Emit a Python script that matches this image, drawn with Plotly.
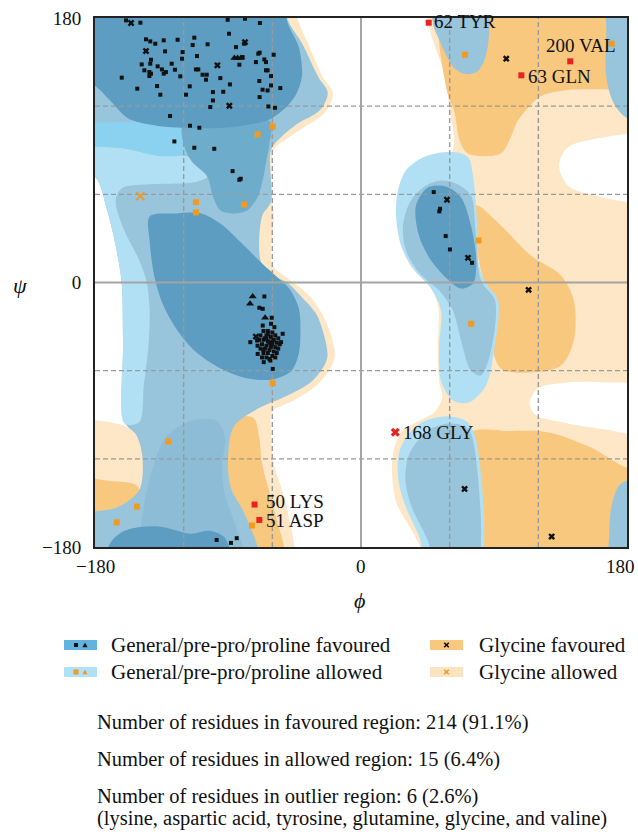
import plotly.graph_objects as go

FIG_W, FIG_H = 638, 835
PLOT_L, PLOT_R, PLOT_T, PLOT_B = 95, 627, 18, 547
SERIF = "Liberation Serif, Times New Roman, DejaVu Serif, serif"

# ---------------- axis ticks ----------------
TICK_VALS = [-180, 0, 180]
TICK_TEXT = ["\u2212180", "0", "180"]
GRID_DASHED = [-120, -60, 60, 120]

# ---------------- region outlines (phi, psi) ----------------
GA_LEFT_R = [(-130, 200), (-44, 200), (-43, 180), (-36, 163), (-26, 140), (-19, 129), (-24, 116), (-38, 106),
             (-50, 98), (-59, 90), (-60, 55), (-59, 45), (-60, 12), (-50, 3), (-36, -8), (-26, -22), (-19, -40),
             (-18, -52), (-28, -68), (-45, -80), (-60, -88), (-61, -100), (-59, -123), (-52, -146), (-45, -180),
             (-44, -200), (-130, -200)]
GA_LEFT_EDGE = [(-200, -97), (-162, -97), (-152, -104), (-148, -122), (-150, -140), (-165, -155), (-200, -164)]
GA_RIGHT = [(44, 200), (45, 180), (47, 170), (51, 158), (55, 147), (58, 135), (60, 117), (63, 96), (60, 86),
            (45, 80), (32, 70), (27, 55), (27, 30), (33, 12), (45, 0), (52, -15), (52, -45), (53, -68), (55, -78),
            (50, -88), (36, -96), (27, -102), (22, -115), (21, -130), (24, -150), (35, -170), (42, -185),
            (43, -200), (200, -200), (200, 200)]
WHITE_HOLE_A = [(134, 80), (140, 92), (155, 97), (200, 99), (200, 56), (155, 60), (140, 66)]
WHITE_HOLE_B = [(114, -82), (120, -72), (140, -68), (165, -68), (200, -72), (200, -103), (165, -100),
                (135, -95), (118, -90)]
GF_LEFT_BAND = [(-100, -97), (-73, -92), (-69, -105), (-67, -123), (-61, -146), (-56, -165), (-52, -180),
                (-51, -200), (-100, -200)]
GF_LEFT_EDGE = [(-200, -134), (-170, -135), (-152, -138), (-148, -149), (-162, -159), (-200, -164)]
GF_TOP = [(58, 200), (58, 131), (63, 117), (67, 96), (72, 88), (83, 86), (95, 88), (101, 98), (106, 110),
          (114, 120), (122, 127), (140, 131), (180, 131), (200, 131), (200, 200)]
GF_MID = [(77.8, 52.4), (94.7, 38.8), (115, 18.4), (135.3, 4.8), (144, -12.3), (144, -39.5), (135.3, -56.5),
          (115, -61.3), (94.7, -58.5), (88, -39.5), (88, -12.3), (81.2, 8.2), (77.1, 35.4)]
GF_BOTTOM = [(73, -103), (100, -101), (127, -102), (155, -112), (180, -126), (200, -128), (200, -200), (73, -200)]

GEN_LEFT = [(-200, 200), (-50, 200), (-50, 180), (-40, 163), (-29, 140), (-22.5, 129), (-28, 117), (-43, 108),
            (-55, 98), (-61, 90), (-61, 55), (-67, 45), (-68, 15), (-62, 6), (-50, 0), (-40, -10), (-30, -22),
            (-24, -40), (-23, -52), (-33, -67), (-52, -78), (-70, -86), (-86, -98), (-90, -120), (-88, -140),
            (-80, -155), (-70, -180), (-68, -200), (-200, -200), (-200, -161), (-165, -153), (-150, -141),
            (-148, -118), (-152, -104), (-160, -95), (-161, -40), (-162, 0), (-166, 25), (-172, 50), (-180, 72),
            (-200, 78)]
GEN_LEFT_LIGHT = [(-200, 96), (-160, 93), (-135, 87), (-118, 86), (-106, 80), (-104, 72), (-114, 68), (-140, 67),
                  (-162, 64), (-166, 55), (-160, 35), (-150, 15), (-145, 0), (-143, -20), (-144, -45), (-147, -70),
                  (-150, -95), (-160, -96), (-161, -40), (-162, 0), (-166, 25), (-172, 50), (-180, 72), (-200, 78)]
PREPRO_CYAN = [(-200, 105), (-118, 105), (-113, 97), (-118, 88), (-135, 86), (-160, 91), (-200, 96)]
PREPRO_LOW = [(-150, -200), (-148, -160), (-142, -130), (-132, -105), (-115, -94), (-98, -94), (-92, -105),
              (-94, -125), (-92, -145), (-85, -165), (-78, -200)]
TONGUE = [(-120, 108), (-62, 110), (-62, 94), (-64, 83), (-66, 72), (-70, 58), (-77, 49), (-86, 47), (-95, 49),
          (-100, 58), (-104, 72), (-115, 83), (-120, 94)]
FAV_BETA = [(-200, 200), (-52, 200), (-50, 178), (-42, 160), (-40, 140), (-44, 128), (-52, 118), (-62, 111),
            (-85, 106), (-115, 105), (-140, 107), (-158, 112), (-170, 124), (-182, 135), (-200, 137)]
FAV_ALPHA = [(-143, 45), (-125, 47), (-108, 47), (-95, 40), (-80, 26), (-66, 12), (-56, 3), (-48, -5), (-42, -18),
             (-41, -33), (-42, -48), (-47, -60), (-60, -66), (-78, -65), (-96, -58), (-112, -47), (-124, -33),
             (-134, -15), (-140, 5), (-143, 28)]
FAV_BOTTOM = [(-174, -200), (-170, -178), (-160, -169), (-137, -166), (-115, -171), (-103, -169), (-92, -174),
              (-88, -200)]
BLOB_OUTER = [(67.7, 88), (54, 88.5), (40.6, 84.4), (30.4, 76.2), (25.0, 62.6), (23.7, 45.6), (27.1, 25.2),
              (35.2, 9.5), (47.4, -4.1), (54.1, -19.1), (52.8, -44.2), (54.1, -66.7), (62.2, -80.3),
              (73.1, -81.7), (84.6, -70.1), (90.0, -46.3), (92.7, -12.3), (84.6, -0.7), (79.8, 11.6),
              (78.5, 42.2), (75.8, 72.8), (73.1, 84.4)]
BLOB_MID = [(44, 66), (33.8, 55.8), (28.4, 38.8), (30.4, 21.8), (39.2, 6.8), (54.1, -6.8), (62.2, -19.1),
            (67.7, -39.5), (74.4, -59.9), (81.2, -63.3), (88, -46.3), (90.7, -12.3), (81.2, 1.4), (77.5, 35.4),
            (74.4, 59.2), (64.3, 67.4), (54.1, 69.4)]
BLOB_CORE = [(45.3, 64.7), (37.2, 52.4), (39.2, 32.0), (47.4, 15.0), (59.5, 1.4), (67.7, -4.1), (75.8, -0.7),
             (78.0, 15.0), (74.4, 38.8), (67.7, 57.9), (57.5, 65.4)]
TOP_BLUE_R = [(49, 200), (49, 175), (53, 165), (57, 156), (63, 146), (70, 142), (78, 143), (83, 150), (86, 162),
              (87, 180), (87, 200)]
TOP_EDGE_R = [(168, 200), (166, 170), (166, 140), (171, 122), (180, 112), (200, 110), (200, 200)]
LOW_BLOB_OUTER = [(44, -200), (40, -175), (30, -152), (25, -132), (27, -112), (40, -96), (58, -91), (72, -95),
                  (78, -108), (78, -200)]
LOW_BLOB = [(53, -200), (45, -175), (34, -152), (30, -133), (33, -116), (45, -101), (59, -96), (72, -99),
            (76.7, -112), (76.7, -200)]
BOTTOM_EDGE_R = [(200, -200), (170, -200), (168, -170), (170, -150), (176, -137), (200, -133)]

# ---------------- residues ----------------
GEN_FAV_SQ = [
    (-159.0, 178.4), (-149.3, 176.8), (-90.2, 178.8), (-78.5, 179.5), (-68.4, 176.6),
    (-145.5, 165.5), (-142.6, 164.1), (-139.2, 162.5), (-133.5, 164.8), (-124.1, 165.2), (-112.8, 166.6),
    (-113.9, 161.6), (-103.8, 162.1), (-89.3, 169.3), (-84.6, 160.2), (-79.0, 162.5), (-69.5, 155.7),
    (-68.6, 156.4), (-132.6, 157.3), (-120.7, 156.8), (-121.1, 152.3), (-111.0, 154.1), (-80.1, 153.4),
    (-71.1, 150.0), (-65.4, 151.8), (-64.3, 150.0), (-59.1, 155.0), (-142.1, 151.6), (-142.6, 148.9),
    (-148.4, 148.4), (-137.6, 147.1), (-134.7, 145.0), (-133.5, 142.1), (-132.0, 143.2), (-128.1, 148.9),
    (-125.9, 144.8), (-146.6, 144.4), (-143.2, 143.2), (-142.1, 142.1), (-143.2, 140.5), (-122.3, 140.3),
    (-111.7, 145.0), (-110.1, 145.0), (-107.2, 141.4), (-104.4, 141.4), (-104.9, 138.0), (-95.2, 139.1),
    (-88.7, 134.8), (-82.3, 148.2), (-64.3, 144.4), (-63.2, 144.4), (-60.9, 140.5), (-161.9, 139.4),
    (-151.4, 131.9), (-138.0, 133.7), (-135.8, 127.8), (-118.4, 127.8), (-115.9, 133.5), (-100.2, 129.6),
    (-100.2, 123.9), (-93.2, 129.8), (-102.0, 119.4), (-68.8, 137.1), (-66.6, 131.2), (-63.2, 130.7),
    (-60.9, 134.1), (-54.6, 132.3), (-68.6, 126.2), (-62.7, 119.8), (-58.2, 118.9), (-129.2, 113.3),
    (-115.7, 106.7), (-109.4, 105.3), (-126.3, 96.0), (-112.8, 91.7), (-99.3, 91.0), (-86.9, 75.8),
    (-82.3, 69.9), (-81.4, 70.6),
    (-65.4, -9.5), (-68.8, -17.2), (-66.5, -17.9), (-60.4, -24.0), (-66.5, -29.3), (-60.9, -28.1),
    (-58.6, -30.4), (-53.0, -34.9), (-74.9, -40.6), (-70.3, -39.5), (-54.1, -40.6), (-69.9, -48.6),
    (-65.8, -54.2), (-61.3, -53.1), (-59.7, -58.8),
    (-66, -33), (-63, -33), (-60, -34), (-68, -36), (-64, -36), (-61, -37), (-58, -36), (-56, -38),
    (-69, -39), (-66, -39), (-63, -40), (-60, -40), (-57, -41), (-55, -42), (-67, -42), (-64, -43),
    (-61, -43), (-58, -44), (-62, -46), (-65, -45), (-68, -45), (-59, -47), (-56, -45), (-63, -48),
    (-66, -48), (-60, -50), (-64, -51), (-67, -51), (-61, -44), (-62, -41), (-65, -38), (-59, -39),
    (-57, -48), (-70, -43), (-63, -35), (-60, -42), (-66, -46), (-62, -52), (-58, -51), (-64, -38),
    (49.2, 61.5), (53.5, 50.2), (53.0, 48.4), (57.3, 31.6), (60.2, 22.5), (75.1, 13.4),
    (-97.7, -175.2), (-88.0, -177.2), (-84.1, -174.0),
]
PRO_FAV_TRI = [(-85.7, 152.8), (-83.5, 152.8), (-81.2, 152.8), (-73.3, -9.5), (-75.1, -14.5), (-64.9, -24.0)]
GLY_FAV_X = [(-155.6, 176.6), (-145.5, 157.5), (-97.2, 147.8), (-78.5, 163.6), (-89.1, 120.3), (-71.1, -36.8),
             (98.3, 152.3), (58.2, 56.3), (72.4, 16.8), (113.4, -5.0), (70.1, -140.5), (129.0, -172.9)]
GEN_ALLOWED_SQ = [(-59.8, 106.2), (-70.0, 100.8), (-111.7, 54.7), (-111.7, 47.7), (-79.0, 53.1), (-59.8, -68.5),
                  (-130.4, -108.2), (-151.6, -152.5), (-165.3, -163.2), (-73.8, -165.4), (70.4, 155.0),
                  (169.6, 162.5), (79.6, 28.6), (74.6, -28.1)]
GLY_ALLOWED_X = [(-149.3, 58.8)]
OUTLIER_LABELS = ["62 TYR", "63 GLN", "200 VAL", "50 LYS", "51 ASP", "168 GLY"]
OUTLIER_PHI = [45.8, 108.5, 141.6, -72.0, -68.8, 23.2]
OUTLIER_PSI = [176.8, 141.0, 150.5, -151.1, -161.6, -101.9]
OUTLIER_IS_GLY = [False, False, False, False, False, True]

LEGEND_LEFT = ["General/pre-pro/proline favoured", "General/pre-pro/proline allowed"]
LEGEND_RIGHT = ["Glycine favoured", "Glycine allowed"]
STATS = ["Number of residues in favoured region: 214 (91.1%)",
         "Number of residues in allowed region: 15 (6.4%)",
         "Number of residues in outlier region: 6 (2.6%)",
         "(lysine, aspartic acid, tyrosine, glutamine, glycine, and valine)"]

# ---------------- colours ----------------
C_GA = "#fde7c7"
C_GF = "#f8c87f"
C_LB = "#b1e0f4"
C_CY = "#8ad2ef"
C_GB = "#98c5db"
C_MB2 = "#8dbdd6"
C_MB = "#6eaccc"
C_DB = "#5c9dc1"
C_ORANGE = "#f39a1e"
C_RED = "#e8231f"

fig = go.Figure()


def region(pts, color):
    xs = [p[0] for p in pts] + [pts[0][0]]
    ys = [p[1] for p in pts] + [pts[0][1]]
    fig.add_trace(go.Scatter(x=xs, y=ys, mode="lines", fill="toself", fillcolor=color,
                             line=dict(width=0, shape="spline", smoothing=0.9, color=color),
                             hoverinfo="skip", showlegend=False))


for pts, col in [
    (GA_LEFT_R, C_GA), (GA_LEFT_EDGE, C_GA), (GA_RIGHT, C_GA),
    (WHITE_HOLE_A, "#ffffff"), (WHITE_HOLE_B, "#ffffff"),
    (GF_LEFT_BAND, C_GF), (GF_LEFT_EDGE, C_GF), (GF_TOP, C_GF), (GF_MID, C_GF), (GF_BOTTOM, C_GF),
    (GEN_LEFT, C_GB), (GEN_LEFT_LIGHT, C_LB), (PREPRO_CYAN, C_CY), (PREPRO_LOW, C_MB2),
    (TONGUE, C_MB), (FAV_BETA, C_DB), (FAV_ALPHA, C_DB), (FAV_BOTTOM, C_DB),
    (BLOB_OUTER, C_LB), (BLOB_MID, C_GB), (BLOB_CORE, C_DB),
    (TOP_BLUE_R, C_GB), (TOP_EDGE_R, C_GB), (LOW_BLOB_OUTER, C_LB), (LOW_BLOB, C_GB), (BOTTOM_EDGE_R, C_GB),
]:
    region(pts, col)

# grid lines (drawn over the regions)
for v in GRID_DASHED:
    fig.add_trace(go.Scatter(x=[v, v], y=[-180, 180], mode="lines", hoverinfo="skip", showlegend=False,
                             line=dict(color="#9a9a9a", width=1.4, dash="5px,3px")))
    fig.add_trace(go.Scatter(x=[-180, 180], y=[v, v], mode="lines", hoverinfo="skip", showlegend=False,
                             line=dict(color="#9a9a9a", width=1.4, dash="5px,3px")))
fig.add_trace(go.Scatter(x=[0, 0], y=[-180, 180], mode="lines", hoverinfo="skip", showlegend=False,
                         line=dict(color="#a4a4a4", width=2)))
fig.add_trace(go.Scatter(x=[-180, 180], y=[0, 0], mode="lines", hoverinfo="skip", showlegend=False,
                         line=dict(color="#a4a4a4", width=2)))


def pts_trace(pts, symbol, size, color, lw=0):
    fig.add_trace(go.Scatter(x=[p[0] for p in pts], y=[p[1] for p in pts], mode="markers",
                             marker=dict(symbol=symbol, size=size, color=color,
                                         line=dict(width=lw, color=color)),
                             cliponaxis=False, hoverinfo="skip", showlegend=False))


pts_trace(GEN_FAV_SQ, "square", 4, "#111111")
pts_trace(PRO_FAV_TRI, "triangle-up", 7, "#111111")
pts_trace(GLY_FAV_X, "x", 6, "#111111")
pts_trace(GEN_ALLOWED_SQ, "square", 6, C_ORANGE)
pts_trace(GLY_ALLOWED_X, "x-thin", 8, C_ORANGE, lw=2)

out_sq = [(p, s) for p, s, g in zip(OUTLIER_PHI, OUTLIER_PSI, OUTLIER_IS_GLY) if not g]
out_x = [(p, s) for p, s, g in zip(OUTLIER_PHI, OUTLIER_PSI, OUTLIER_IS_GLY) if g]
pts_trace(out_sq, "square", 6, C_RED)
pts_trace(out_x, "x", 8, C_RED)

annotations = []
# label placement (style only)
LABEL_STYLE = {
    "62 TYR": dict(xanchor="left", yanchor="middle", xshift=3, yshift=1),
    "63 GLN": dict(xanchor="left", yanchor="middle", xshift=5, yshift=-1),
    "200 VAL": dict(xanchor="center", yanchor="bottom", xshift=11, yshift=3),
    "50 LYS": dict(xanchor="left", yanchor="middle", xshift=9, yshift=3),
    "51 ASP": dict(xanchor="left", yanchor="middle", xshift=5, yshift=-1),
    "168 GLY": dict(xanchor="left", yanchor="middle", xshift=6, yshift=0),
}
for lab, p, s in zip(OUTLIER_LABELS, OUTLIER_PHI, OUTLIER_PSI):
    st = LABEL_STYLE[lab]
    annotations.append(dict(x=p, y=s, xref="x", yref="y", text=lab, showarrow=False,
                            font=dict(family=SERIF, size=19, color="#111"), **st))


def px_x(v):
    return v / FIG_W


def px_y(v):
    return 1 - v / FIG_H


# x tick labels (drawn as text under the axis so the right-hand one stays inside the page)
X_TICK_SHIFT = [0, 0, -7]
for val, txt, sh in zip(TICK_VALS, TICK_TEXT, X_TICK_SHIFT):
    annotations.append(dict(x=val, y=px_y(566), xref="x", yref="paper", text=txt, showarrow=False,
                            xanchor="center", yanchor="middle", xshift=sh,
                            font=dict(family=SERIF, size=19, color="#111")))

# axis titles
annotations.append(dict(x=px_x(20), y=px_y(285), xref="paper", yref="paper", text="<i>\u03c8</i>",
                        showarrow=False, font=dict(family=SERIF, size=22, color="#111"),
                        xanchor="center", yanchor="middle"))
annotations.append(dict(x=px_x(360), y=px_y(600), xref="paper", yref="paper", text="<i>\u03d5</i>",
                        showarrow=False, font=dict(family=SERIF, size=22, color="#111"),
                        xanchor="center", yanchor="middle"))

# legend
ROW_Y = [645, 672]
for i, txt in enumerate(LEGEND_LEFT):
    annotations.append(dict(x=px_x(109), y=px_y(ROW_Y[i]), xref="paper", yref="paper", text=txt,
                            showarrow=False, xanchor="left", yanchor="middle",
                            font=dict(family=SERIF, size=21, color="#111")))
for i, txt in enumerate(LEGEND_RIGHT):
    annotations.append(dict(x=px_x(477), y=px_y(ROW_Y[i]), xref="paper", yref="paper", text=txt,
                            showarrow=False, xanchor="left", yanchor="middle",
                            font=dict(family=SERIF, size=21, color="#111")))
STAT_Y = [722, 759, 796, 818]
for yv, txt in zip(STAT_Y, STATS):
    annotations.append(dict(x=px_x(95), y=px_y(yv), xref="paper", yref="paper", text=txt,
                            showarrow=False, xanchor="left", yanchor="middle",
                            font=dict(family=SERIF, size=20.5, color="#111")))

shapes = []


def rect(x0, x1, y0, y1, color):
    shapes.append(dict(type="rect", xref="paper", yref="paper", x0=px_x(x0), x1=px_x(x1),
                       y0=px_y(y1), y1=px_y(y0), fillcolor=color, line=dict(width=0)))


def tri(cx, cy, color):
    p = "M {} {} L {} {} L {} {} Z".format(px_x(cx - 2.6), px_y(cy + 2.3), px_x(cx + 2.6), px_y(cy + 2.3),
                                           px_x(cx), px_y(cy - 2.6))
    shapes.append(dict(type="path", xref="paper", yref="paper", path=p, fillcolor=color, line=dict(width=0)))


def xmark(cx, cy, color, r=2.3, w=1.6):
    for dx in (-r, r):
        shapes.append(dict(type="line", xref="paper", yref="paper", x0=px_x(cx - dx), x1=px_x(cx + dx),
                           y0=px_y(cy - r), y1=px_y(cy + r), line=dict(color=color, width=w)))


rect(64, 97, 640, 650, "#62b4de")
rect(74, 78, 643, 647, "#111111")
tri(85, 645, "#111111")
rect(64, 97, 667, 677, "#b0e1f6")
rect(73.5, 78.5, 669.5, 674.5, C_ORANGE)
tri(85, 672, C_ORANGE)
rect(430, 463, 640, 650, C_GF)
xmark(446.5, 645, "#111111")
rect(430, 463, 667, 677, "#fde4c0")
xmark(446.5, 672, C_ORANGE)

axis_common = dict(range=[-180, 180], tickvals=TICK_VALS, ticktext=TICK_TEXT, showgrid=False, zeroline=False,
                   showline=True, mirror=True, linecolor="#222", linewidth=2, ticks="",
                   tickfont=dict(family=SERIF, size=19, color="#111"), automargin=False, fixedrange=True)

fig.update_layout(
    width=FIG_W, height=FIG_H, template="none",
    margin=dict(l=0, r=0, t=0, b=0, pad=0),
    paper_bgcolor="white", plot_bgcolor="white",
    showlegend=False,
    xaxis=dict(domain=[PLOT_L / FIG_W, PLOT_R / FIG_W], showticklabels=False, **axis_common),
    yaxis=dict(domain=[1 - PLOT_B / FIG_H, 1 - PLOT_T / FIG_H], ticklabelstandoff=8, **axis_common),
    annotations=annotations, shapes=shapes,
)

fig.write_html("out.html", config={"displayModeBar": False},
               post_script="document.body.style.margin='0px';document.body.style.padding='0px';"
                           "document.documentElement.style.overflow='hidden';")
